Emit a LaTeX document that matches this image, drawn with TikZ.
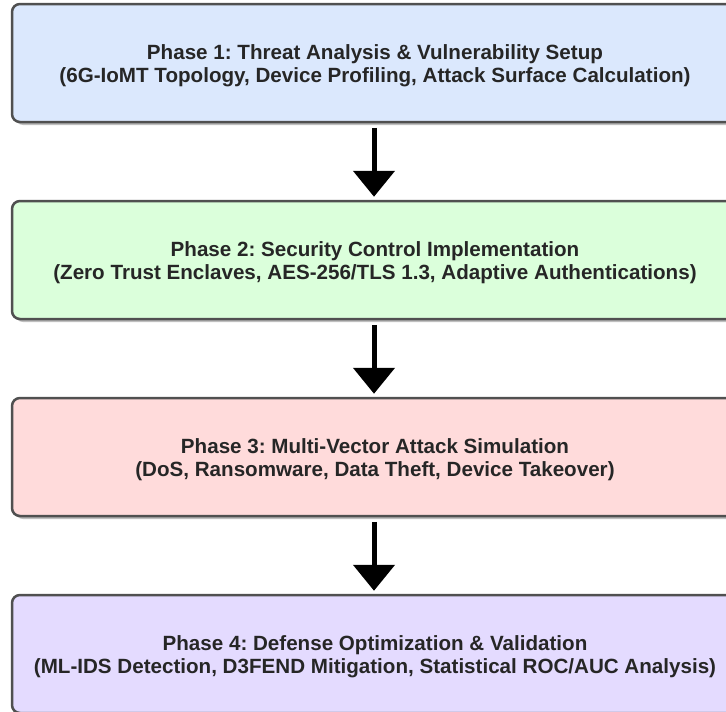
\documentclass[tikz,border=0pt]{standalone}
\usepackage{fontspec}
\setmainfont{Liberation Sans}
\usetikzlibrary{arrows.meta,shadows}
\definecolor{bluefill}{HTML}{DBE8FD}
\definecolor{greenfill}{HTML}{DBFFDB}
\definecolor{pinkfill}{HTML}{FFDBDB}
\definecolor{purplefill}{HTML}{E4DBFF}
\definecolor{edgegray}{HTML}{505050}
\definecolor{txtgray}{HTML}{262626}
\frenchspacing
\begin{document}
\begin{tikzpicture}[x=1pt,y=-1pt,
  phasebox/.style={draw=edgegray, line width=2.5pt, rounded corners=8pt,
    minimum width=726pt, minimum height=118pt, inner sep=0pt,
    drop shadow={shadow xshift=3pt, shadow yshift=-3pt, fill=black!25, opacity=1}},
  phasetext/.style={align=center, text=txtgray, inner sep=0pt,
    font=\fontsize{20.6}{22.8}\selectfont\bfseries},
  flowarrow/.style={line width=5pt, -{Triangle[width=41pt,length=26pt]},
    shorten <=4.5pt, shorten >=3pt}]
\useasboundingbox (0,0) rectangle (726,712);
\node[phasebox, fill=bluefill] (p1) at (375,63) {};
\node[phasebox, fill=greenfill] (p2) at (375,260) {};
\node[phasebox, fill=pinkfill] (p3) at (375,457) {};
\node[phasebox, fill=purplefill] (p4) at (375,654) {};
\node[phasetext] (t1) at ([yshift=-2.5pt]p1.center) {Phase 1: Threat Analysis \& Vulnerability Setup\\(6G-IoMT Topology, Device Profiling, Attack Surface Calculation)};
\node[phasetext] (t2) at ([yshift=-2.5pt]p2.center) {Phase 2: Security Control Implementation\\(Zero Trust Enclaves, AES-256/TLS 1.3, Adaptive Authentications)};
\node[phasetext] (t3) at ([yshift=-2.5pt]p3.center) {Phase 3: Multi-Vector Attack Simulation\\(DoS, Ransomware, Data Theft, Device Takeover)};
\node[phasetext] (t4) at ([yshift=-2.5pt]p4.center) {Phase 4: Defense Optimization \& Validation\\(ML-IDS Detection, D3FEND Mitigation, Statistical ROC/AUC Analysis)};
\draw[flowarrow] (p1.south -| 374,0) -- (p2.north -| 374,0);
\draw[flowarrow] (p2.south -| 374,0) -- (p3.north -| 374,0);
\draw[flowarrow] (p3.south -| 374,0) -- (p4.north -| 374,0);
\end{tikzpicture}
\end{document}
